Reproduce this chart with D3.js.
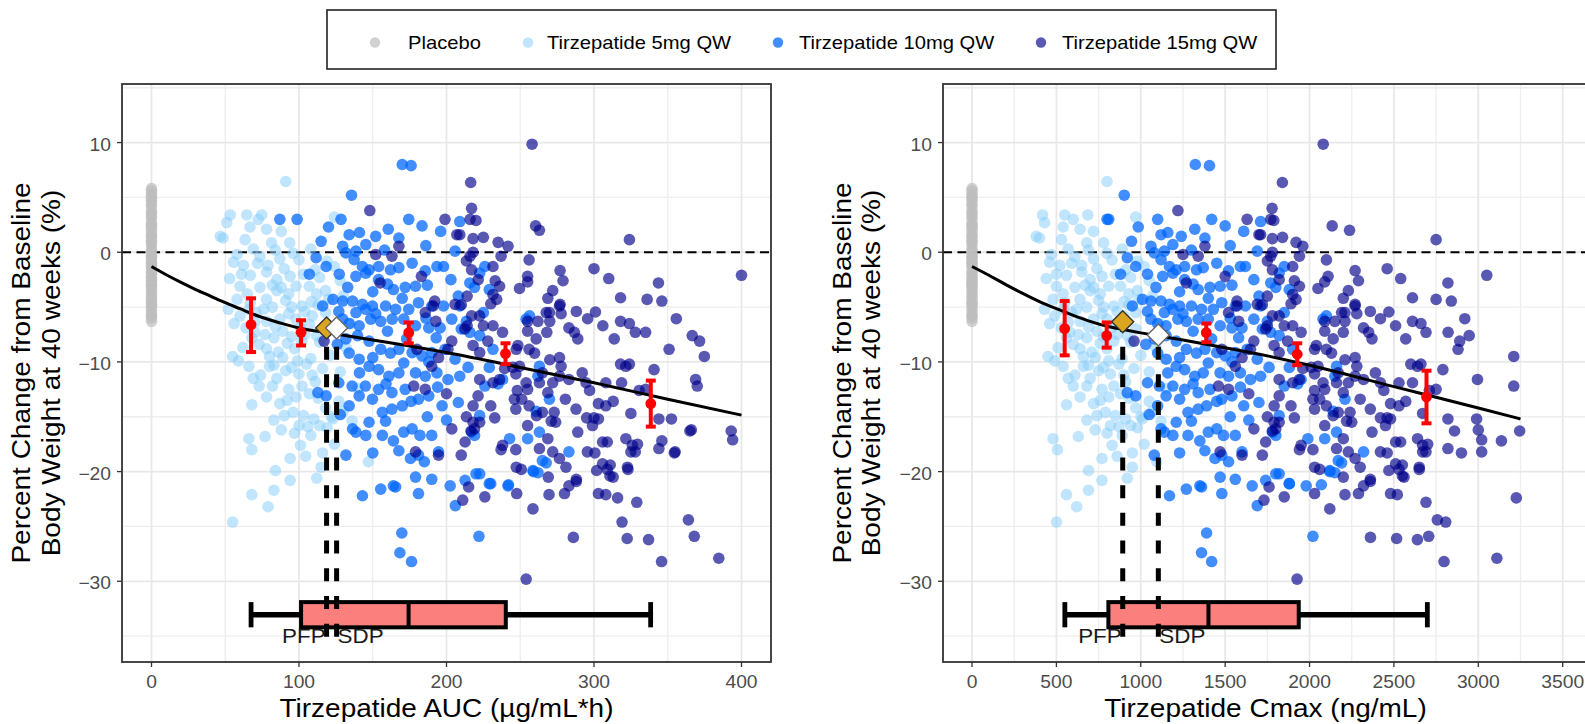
<!DOCTYPE html>
<html><head><meta charset="utf-8">
<script src="https://cdn.jsdelivr.net/npm/d3@7"></script>
<style>body{margin:0;background:#fff}svg{display:block}text{font-family:"Liberation Sans",Arial,sans-serif}</style>
</head><body><svg id="chart" width="1585" height="724"></svg>
<script>
// ---------------- DATA ----------------
const groups = ["Placebo","Tirzepatide 5mg QW","Tirzepatide 10mg QW","Tirzepatide 15mg QW"];
const groupFill = ["#BEBEBE","#87CEFA","#0066FF","#00008B"];
const groupOpacity = [0.7,0.52,0.74,0.65];

const placeboChange = [5.8,5.6,5.3,5.1,4.9,4.7,4.4,4.2,3.8,3.6,3.3,3.1,2.7,2.5,2.3,2.1,1.8,1.5,1.4,1.1,0.9,0.7,0.3,0.1,-0.3,-0.4,-0.6,-0.9,-1.0,-1.2,-1.4,-1.8,-1.9,-2.2,-2.4,-2.6,-2.8,-3.0,-3.1,-3.4,-3.6,-3.9,-4.1,-4.4,-4.6,-4.8,-5.0,-5.3,-5.6,-5.8,-6.0,-6.3];

// [AUC (ug/mL*h), Cmax (ng/mL), % change]
const tzp5 = [
[91,800,6.45],[53.4,418,3.4],[64.6,549,3.4],[74.7,686,3.4],[72.4,600,3.0],[66.8,540,2.3],[78,640,2.1],[46.6,380,1.45],[48.5,400,1.3],[51,430,2.7],[63.5,530,1.15],[81.4,680,0.85],[88,720,1.9],[93.7,780,0.85],[124,970,3.2],
[55.6,460,-0.9],[62.3,520,-1.2],[73.5,610,-0.4],[79,650,-1.2],[87,720,-0.6],[96,800,-0.1],[100,830,-0.7],[53,440,-2.4],[67,560,-2.1],[78,650,-1.8],[85,700,-2.5],[94,770,-2.2],
[60,500,-3.1],[73.5,610,-3.2],[85,700,-3.5],[98,810,-3.1],[107,880,-3.1],[112,930,-3.8],[118,980,-3.5],[58,480,-4.3],[67,550,-4.6],[78,640,-4.3],[91,750,-4.4],[102,840,-4.9],[108.5,900,-4.5],[120,990,-4.3],
[60,490,-5.8],[71,590,-5.5],[87,720,-6.1],[98,800,-6.1],[109,900,-5.8],[118,970,-5.5],[64,530,-6.9],[78,640,-6.3],[89,740,-7.2],[101,830,-6.9],[112,920,-7.6],
[62,510,-8.7],[73,600,-8.4],[86,710,-9.1],[97,800,-8.8],[108,890,-9.7],[121,1000,-9.4],[66,540,-10.4],[80,660,-10.4],[91,750,-10.8],[100,820,-11.1],[116,960,-10.6],
[73,600,-12.2],[82,680,-12.2],[93,770,-12.5],[102,840,-12.2],[111,910,-11.8],[68,560,-13.9],[87,720,-13.8],[98,810,-13.2],[107,880,-12.9],[118,970,-14.2],[127,1050,-13.6],
[90,740,-14.9],[96,790,-14.6],[103,850,-14.9],[110,910,-15.2],[123,1010,-15.2],[136,1120,-15.4],[66,480,-17.0],[68,506,-18.0],[88,730,-16.2],[97,800,-16.5],[106,870,-15.9],[108,890,-16.7],[119,980,-16.0],
[94,770,-18.8],[104.5,860,-18.6],[115,950,-19.6],[147,1095,-19.1],[84,690,-19.9],[94,770,-20.8],[68,560,-22.1],[79,620,-23.2],[55,501,-24.6],[83,690,-21.7],[122,1000,-15.0],[116,950,-18.3],
[124,1020,-1.3],[130,1070,-4.0],[135,1110,-6.5],[114,940,-8.2],[104,860,-7.5],[95,780,-5.0],[76,620,-5.2],[83,680,-7.8],[93,760,-3.8],[80,660,-9.5],[70,580,-7.3],[55,450,-9.5],[74,610,-11.2],[99,810,-9.9],[85,700,-11.5],[105,870,-10.2],
[58,470,-0.2],[69,570,0.3],[84,690,0.2],[90,740,-1.5],[61,500,-2.0],[72,590,-1.0],[82,670,-3.0],[103,850,-2.0],[65,540,-3.8],[88,720,-3.2],[114,940,-2.3],[52,430,-5.2],[66,540,-5.2],
[82,680,-5.0],[93,770,-5.6],[104,860,-5.4],[113,930,-4.8],[56,460,-6.5],[70,570,-6.4],[84,690,-6.8],[95,780,-7.7],[107,880,-6.6],[118,970,-7.0],[68,560,-7.8],[77,630,-7.5],[92,760,-8.3],
[102,840,-8.1],[59,490,-9.9],[78,640,-8.8],[89,730,-9.6],[69,570,-11.5],[83,690,-10.3],[95,780,-10.5],[109,900,-11.2],[78,640,-13.2],[92,760,-13.5],[113,930,-13.3],[83,680,-15.3],
[100,820,-15.8],[114,940,-15.8],[130,1070,-14.5],[77,630,-16.8],[101,830,-17.6],[124,1020,-17.5],[112,920,-20.6],[128,1050,-10.9],[132,1090,-8.7],[140,1150,-12.4],[128,1050,-2.6],
[119,980,-0.8],[108,890,0.3],[111,910,-1.6]
];

const tzp10 = [
[170,1323,8.0],[176,1407,7.9],[135.6,902,5.2],[87,810,3.0],[98.7,800,3.0],[128.5,1100,3.0],[134,1120,1.6],[174.4,1420,3.0],[183.4,1500,2.4],[160.5,1320,2.1],[167.7,1380,1.3],[152,1240,1.45],
[129.6,1060,0.55],[138.6,1140,0.1],[145.3,1190,0.7],[111.6,920,-0.5],[107,880,-2.0],[118.4,970,-1.3],[127.3,1040,-2.0],[131.8,1080,-0.06],[137.4,1120,-0.67],[143,1170,-1.3],[147.5,1210,-1.6],
[154,1260,-1.3],[162,1330,-1.6],[167.7,1370,-1.4],[176.7,1450,-1.0],[185.6,1520,-1.7],[193.5,1590,-1.3],[198,1620,-1.3],[205.8,1690,0.1],[138.6,1130,-2.2],[145.3,1190,-1.9],[154,1260,-2.5],
[164,1340,-3.4],[172,1410,-3.2],[179,1470,-3.1],[123,1010,-4.3],[129.6,1060,-4.45],[136.3,1120,-4.45],[143,1170,-4.75],[149.8,1230,-4.9],[158.7,1300,-4.9],[165.5,1360,-5.2],[174.4,1430,-5.2],
[181,1480,-4.6],[190,1560,-4.9],[198,1620,-4.9],[208,1700,-4.0],[127,1040,-5.4],[138.6,1140,-5.5],[145.3,1190,-5.2],[129.6,1060,-6.1],[140.8,1150,-6.7],[148.6,1220,-6.1],[155.4,1270,-6.3],
[163.2,1340,-6.1],[171,1400,-6.1],[179,1470,-6.7],[188,1540,-6.9],[195.7,1600,-6.9],[203.6,1670,-6.1],[210,1720,-7.0],[131.8,1080,-7.9],[139.7,1150,-7.6],[147.5,1210,-8.1],[155.4,1270,-8.85],
[162,1330,-9.2],[167.7,1380,-8.85],[176.7,1450,-9.15],[183.4,1500,-9.45],[190,1560,-9.15],[199,1630,-8.85],[205.8,1690,-9.75],[134,1100,-9.2],[140.8,1150,-9.75],[147.5,1210,-10.4],
[154,1260,-10.7],[160.9,1320,-11.3],[167.7,1370,-11.0],[179,1470,-11.0],[185.6,1520,-11.3],[193.5,1590,-11.0],[201,1650,-11.6],[209,1710,-11.3],[127,1040,-11.9],[136,1110,-12.2],[145,1190,-12.2],
[154,1260,-12.5],[163,1340,-12.8],[172,1410,-12.5],[181,1480,-13.4],[188,1540,-13.1],[197,1610,-14.0],[208,1700,-13.7],[112.8,920,-12.8],[118.4,970,-13.1],[134,1100,-14.0],[140.8,1150,-13.1],
[149.8,1230,-13.4],[156.5,1280,-14.6],[163,1340,-14.3],[170,1390,-14.0],[136.3,1120,-16.1],[147.5,1210,-15.5],[158.7,1300,-15.4],[138.6,1140,-16.4],[145.3,1190,-16.7],[156.5,1280,-16.7],
[171,1400,-16.4],[176.7,1450,-16.1],[182,1490,-16.7],[190,1560,-16.7],[194.6,1600,-18.2],[167.7,1380,-18.1],[175.6,1440,-18.8],[181,1480,-18.5],[131.8,1080,-18.5],[165.5,1360,-21.4],
[179,1470,-20.5],[190,1560,-20.7],[202.5,1660,-21.3],[212.6,1740,-20.8],[143,1170,-22.2],[155.4,1270,-21.6],[169.7,1390,-25.6],[168.4,1360,-27.4],[176.3,1420,-28.2],[222,2020,-25.9],
[206,1690,-23.1],[181,1480,-22.0],[164,1350,-21.3],[230,1880,-21.1],[242,2070,-21.2],[220,1800,-20.2],[259,2120,-20.0],[265,2170,-19.0],[283,2320,-18.2],
[209,1710,2.8],[226,1850,-1.3],[222.5,1820,-1.9],[215.8,1770,-2.8],[219,1800,-3.2],[229,1880,-3.4],[209,1710,-4.9],[225,1850,-5.5],[213.5,1750,-6.3],[254,2080,-6.1],[256.3,2100,-5.8],
[215.8,1770,-7.3],[222.5,1820,-7.6],[231.5,1900,-8.85],[214.6,1760,-10.5],[229,1880,-10.5],[235,1930,-12.0],[226,1850,-12.2],[238,1950,-11.6],[262,2150,-11.3],[263,2160,-10.4],
[260.8,2140,-14.5],[269.8,2210,-13.4],[222.5,1820,-14.9],[217,1780,-16.4],[219,1800,-16.7],[242.8,1990,-17.0],[255,2090,-17.0],[263,2160,-16.4],[267.6,2190,-19.2],[258.6,2120,-19.9],
[262,2150,-20.1],[222.5,1820,-20.2],[229,1880,-21.1],[241.7,1980,-21.3],
[115,945,1.0],[120,985,2.3],[141,1160,1.8],[158,1300,0.2],[186,1530,0.6],[196,1610,1.9],[150,1230,-3.6],[160,1310,-2.9],[187,1540,-3.0],[203,1670,-2.5],[133,1090,-3.2],[116,950,-4.9],
[152,1250,-5.6],[170,1400,-4.2],[186,1530,-6.0],[134,1100,-6.5],[160,1310,-7.2],[173,1420,-7.9],[193,1580,-7.8],[126,1030,-8.4],[150,1230,-9.6],[171,1400,-10.1],[188,1540,-10.0],
[141,1160,-11.0],[159,1310,-12.0],[194,1590,-12.3],[128,1050,-14.8],[176,1450,-13.6],[187,1530,-15.0],[200,1640,-15.3],[164,1350,-17.2],[150,1230,-18.3],[185,1520,-19.1]
];

const tzp15 = [
[258,2081,9.85],[216.4,1839,6.36],[217,1778,4.0],[220,1788,2.9],[260.4,2134,2.4],[263,2237,2.0],[324,2750,1.15],[218,1780,1.24],[225,1840,1.36],[235,1920,0.9],[241.7,1960,0.55],[209,1710,1.6],
[218,1780,0.0],[213.5,1750,-0.8],[237,1940,-0.36],[256,2100,-0.7],[277,2270,-1.67],[279,2290,-2.6],[300,2460,-1.5],[310,2540,-2.4],[400,3050,-2.1],[249.5,2050,-3.3],[255,2090,-2.7],[255,2110,-2.2],
[343.7,2820,-2.8],[318,2610,-4.15],[336,2750,-4.3],[346,2840,-4.45],[231.5,1900,-3.85],[230,1890,-4.7],[234,1920,-4.3],[268.7,2200,-4.2],[272,2230,-3.5],[277,2270,-4.75],[288,2360,-5.4],
[295.7,2420,-6.06],[301,2470,-5.45],[306,2510,-6.7],[318,2610,-6.3],[324,2660,-6.5],[328,2690,-7.3],[335,2821,-7.3],[355.8,2920,-6.06],[366.6,2946,-7.6],[371.6,2890,-8.1],[374.8,3210,-9.5],
[350.9,2880,-8.85],[340.7,2790,-10.7],[368.9,2995,-11.6],[370,3210,-12.2],[344,2820,-15.2],[352.5,2990,-15.2],[366,3000,-16.2],[355,3020,-18.2],[344,2820,-17.9],[346,3137,-17.2],[325,2670,-14.7],
[321.6,2640,-17.0],[326,2670,-17.6],[329.5,2700,-17.5],[313,2570,-13.6],[308,2530,-14.0],[303,2480,-13.8],[318.7,2610,-11.9],[321.6,2640,-10.4],[324,2660,-10.2],[318,2600,-10.2],
[330.6,2710,-12.6],[335,2750,-12.5],[297,2440,-12.6],[294.6,2420,-11.9],[308,2530,-11.9],[313.7,2570,-7.9],[292,2390,-11.0],[283,2320,-11.6],[276.6,2270,-11.3],[280.6,2300,-13.4],
[287.8,2360,-14.3],[295,2420,-15.1],[299,2450,-15.8],[289,2370,-16.4],[295.5,2420,-18.2],[305.8,2510,-17.3],[309,2540,-17.3],[301.8,2470,-19.9],[305.8,2510,-19.3],[310.8,2550,-20.4],
[322.7,2650,-19.6],[325,2670,-18.2],[328,2690,-18.2],[289,2370,-7.9],[286.7,2350,-7.3],[283,2320,-6.9],[276.6,2270,-4.9],[277.7,2280,-5.6],[269.8,2210,-5.5],[270,2210,-6.3],[268,2200,-7.3],
[255,2090,-7.2],[260.8,2140,-7.9],[259.7,2130,-9.2],[276.6,2270,-9.6],[277.7,2280,-10.4],[270,2210,-9.8],[265,2170,-11.0],[263,2160,-11.9],[268.7,2200,-12.8],[272,2230,-11.9],[254,2080,-11.9],
[255,2090,-12.5],[248,2030,-12.6],[251,2060,-13.4],[247,2030,-14.3],[256,2100,-14.0],[261,2140,-14.9],[255,2090,-15.8],[265,2170,-14.6],[273,2240,-14.6],[271,2220,-15.4],[274,2250,-15.5],
[268.7,2200,-17.0],[263,2160,-17.9],[272,2230,-18.2],[276.6,2270,-18.8],[281,2300,-19.6],[288,2360,-20.7],[238,1950,-17.6],[247.3,2030,-19.6],[250.7,2060,-19.8],[230,1890,-14.0],
[222.5,1820,-15.5],[232.7,1910,-15.1],[213.5,1750,-15.0],[218,1790,-15.5],[219,1800,-16.1],[221.4,1820,-13.1],[222.5,1820,-11.6],[231.5,1900,-11.9],[236,1940,-11.6],[247,2030,-11.1],
[246,2020,-13.4],[239.4,1960,-10.6],[245,2010,-10.5],[256,2100,-8.85],[247.3,2030,-8.85],[249.5,2050,-10.4],[222.5,1820,-9.15],[218,1790,-8.5],[238,1950,-7.3],[231.5,1900,-6.7],[228,1870,-8.1],
[225,1850,-6.7],[222.5,1820,-5.8],[236,1940,-3.1],[233,1910,-2.6],[231.5,1900,-1.3],[210,1720,-4.8],[212.4,1740,-7.0],[248.4,2040,-8.5],[255,2090,-6.3],[262,2150,-6.3],[267.6,2190,-5.5],
[148,1220,3.8],[199,1630,3.0],[207,1700,1.6],[216,1770,3.0],[167.7,1380,0.55],[163,1340,-0.36],[152,1250,-0.2],[155,1270,-2.8],[183,1500,-2.2],[192,1570,-4.45],[191,1570,-4.9],[185.6,1520,-5.5],
[205.8,1690,-4.75],[180,1480,-8.85],[190,1560,-10.4],[194.6,1600,-9.6],[201,1650,-8.85],[203.6,1670,-8.1],[177.8,1460,-12.2],[185.6,1520,-12.5],[200,1640,-12.9],[194.6,1600,-18.5],[179,1470,-18.2],
[203.6,1670,-16.1],[212.6,1740,-17.3],[218,1790,-14.0],[216.6,1780,-16.3],[210,1720,-18.5],[117,960,-8.1],[214,1750,-6.7],[217,1780,-5.8],[192.8,1580,-6.3],[214,1750,-4.0],[217,1780,-1.6],
[221.5,1820,-2.5],[216,1770,-0.36],
[254,1926,-29.8],[286,2361,-26.0],[319,2807,-24.6],[322.5,2516,-26.1],[337,2639,-26.2],[345.8,2797,-28.2],[364,2757,-24.4],[368,2706,-25.9],[384.6,3110,-27.9],[393,3245,-16.3],[394,3020,-17.1],
[365,2859,-16.3],[354.5,2900,-18.3],[329,2690,-22.8],[323,2650,-19.8],[316,3225,-22.4],[313,2560,-20.5],[308,2520,-22.1],[303,2480,-22.0],[309,2530,-19.8],[311,2550,-19.4],[300.6,2460,-18.3],
[300,2460,-15.1],[303,2480,-15.2],[288,2360,-20.9],[283,2320,-21.3],[280,2290,-22.0],[269.5,2210,-22.1],[269,2200,-20.5],[258.6,2120,-23.4],[247.6,2030,-22.0],[237,1940,-18.0],[247,2020,-18.0],
[226,1850,-22.3],[215,1760,-21.4],[211,1730,-22.6]
];

// exposure-response model fit
const aucCurveX = [0,10,20,30,40,50,60,70,80,90,100,125,150,175,200,250,300,350,400];
const aucCurveY = [-1.3,-2.05,-2.75,-3.4,-4.0,-4.6,-5.15,-5.7,-6.15,-6.55,-6.9,-7.45,-8.0,-8.55,-9.15,-10.5,-11.9,-13.4,-14.85];
const cmaxCurveX = [0,100,200,300,400,500,600,700,800,900,1000,1250,1500,1750,2000,2500,3000,3250];
const cmaxCurveY = [-1.3,-2.1,-2.95,-3.75,-4.5,-5.15,-5.75,-6.3,-6.75,-7.05,-7.35,-8.0,-8.7,-9.45,-10.3,-12.25,-14.2,-15.2];

// observed mean (95% CI) by exposure quantile
const aucQuantX = [67.5,101.4,174.4,240,338.5];
const aucQuantMean = [-6.6,-7.3,-7.33,-9.24,-13.8];
const aucQuantLo = [-9.1,-8.5,-8.3,-10.2,-15.9];
const aucQuantHi = [-4.2,-6.2,-6.4,-8.3,-11.7];
const cmaxQuantX = [549,798,1388,1927,2693];
const cmaxQuantMean = [-6.97,-7.6,-7.33,-9.3,-13.2];
const cmaxQuantLo = [-9.4,-8.7,-8.2,-10.3,-15.6];
const cmaxQuantHi = [-4.45,-6.4,-6.5,-8.3,-10.8];

// exposure distribution box (p5, p25, median, p75, p95)
const aucBox = [67.5,101.4,174.3,240.2,338.4];
const cmaxBox = [550,808,1401,1936,2698];
const boxRange = [-31.9,-34.2];

// PFP / SDP mean exposures
const thrLabels = ["PFP","SDP"];
const thrFill = ["#DAA520","#FFFFFF"];
const aucThrX = [118.7,125.5];
const aucThrY = [-6.9,-6.9];
const cmaxThrX = [893,1104];
const cmaxThrY = [-6.33,-7.55];
const thrBottom = -35.05;

// axes
const yMajor = [-30,-20,-10,0,10];
const yMinor = [-35,-25,-15,-5,5,15];
const aucMajor = [0,100,200,300,400];
const aucMinor = [50,150,250,350];
const cmaxMajor = [0,500,1000,1500,2000,2500,3000,3500];
const cmaxMinor = [250,750,1250,1750,2250,2750,3250];
const yTitleLines = ["Percent Change from Baseline","Body Weight at 40 weeks (%)"];
const xTitles = ["Tirzepatide AUC (µg/mL*h)","Tirzepatide Cmax (ng/mL)"];

// ---------------- DRAW ----------------
const svg = d3.select("#chart");
svg.append("rect").attr("width",1585).attr("height",724).attr("fill","#fff");
const yTop = 84, yBot = 662;
const y = d3.scaleLinear().domain([-37.36,15.34]).range([yBot,yTop]);
const minus = v => (v<0 ? "\u2212"+Math.abs(v) : String(v));

function label(g,x,yy,s,o){
  const tr = `translate(${x},${yy})` + (o.rotate?` rotate(${o.rotate})`:"") + ` scale(${o.sx||1},1)`;
  return g.append("text").attr("transform",tr).attr("text-anchor",o.anchor||"start")
    .attr("font-size",o.size).attr("fill",o.fill||"#000").text(s);
}

const panels = [
  {x:d3.scaleLinear().domain([-20,420]).range([122,771]), left:122, right:771, k:0,
   major:aucMajor, minor:aucMinor, title:xTitles[0],
   cx:aucCurveX, cy:aucCurveY, qx:aucQuantX, qm:aucQuantMean, ql:aucQuantLo, qh:aucQuantHi,
   box:aucBox, tx:aucThrX, ty:aucThrY, yTickEnd:111, yTitleX:[30,60]},
  {x:d3.scaleLinear().domain([-172,3650]).range([943,1588]), left:943, right:1588, k:1,
   major:cmaxMajor, minor:cmaxMinor, title:xTitles[1],
   cx:cmaxCurveX, cy:cmaxCurveY, qx:cmaxQuantX, qm:cmaxQuantMean, ql:cmaxQuantLo, qh:cmaxQuantHi,
   box:cmaxBox, tx:cmaxThrX, ty:cmaxThrY, yTickEnd:932, yTitleX:[851,880]}
];

panels.forEach((p,pi)=>{
  const x = p.x;
  const clipId = "clip"+pi;
  svg.append("clipPath").attr("id",clipId).append("rect")
    .attr("x",p.left).attr("y",yTop).attr("width",p.right-p.left).attr("height",yBot-yTop);
  const g = svg.append("g").attr("clip-path",`url(#${clipId})`);
  g.append("rect").attr("x",p.left).attr("y",yTop).attr("width",p.right-p.left).attr("height",yBot-yTop).attr("fill","#fff");
  // grid
  g.selectAll(".gminx").data(p.minor).join("line").attr("x1",d=>x(d)).attr("x2",d=>x(d)).attr("y1",yTop).attr("y2",yBot).attr("stroke","#EEEEEE").attr("stroke-width",1.3);
  g.selectAll(".gminy").data(yMinor).join("line").attr("x1",p.left).attr("x2",p.right).attr("y1",d=>y(d)).attr("y2",d=>y(d)).attr("stroke","#EEEEEE").attr("stroke-width",1.3);
  g.selectAll(".gmajx").data(p.major).join("line").attr("x1",d=>x(d)).attr("x2",d=>x(d)).attr("y1",yTop).attr("y2",yBot).attr("stroke","#E8E8E8").attr("stroke-width",1.8);
  g.selectAll(".gmajy").data(yMajor).join("line").attr("x1",p.left).attr("x2",p.right).attr("y1",d=>y(d)).attr("y2",d=>y(d)).attr("stroke","#E8E8E8").attr("stroke-width",1.8);
  // zero reference line
  g.append("line").attr("x1",p.left).attr("x2",p.right).attr("y1",y(0)).attr("y2",y(0))
    .attr("stroke","#000").attr("stroke-width",2).attr("stroke-dasharray","9,5.5");
  // points
  const r = 5.8;
  g.selectAll(".pl").data(placeboChange).join("circle").attr("cx",x(0)).attr("cy",d=>y(d)).attr("r",r)
    .attr("fill",groupFill[0]).attr("fill-opacity",groupOpacity[0]);
  [tzp5,tzp10,tzp15].forEach((arr,gi)=>{
    g.selectAll(".pt"+gi).data(arr).join("circle").attr("cx",d=>x(d[p.k])).attr("cy",d=>y(d[2])).attr("r",r)
      .attr("fill",groupFill[gi+1]).attr("fill-opacity",groupOpacity[gi+1]);
  });
  // model curve
  const line = d3.line().x(d=>x(d[0])).y(d=>y(d[1])).curve(d3.curveMonotoneX);
  g.append("path").datum(p.cx.map((v,i)=>[v,p.cy[i]])).attr("d",line).attr("fill","none").attr("stroke","#000").attr("stroke-width",3);
  // box of exposure distribution
  const b = p.box, yb0 = y(boxRange[0]), yb1 = y(boxRange[1]), ym = (yb0+yb1)/2;
  g.append("line").attr("x1",x(b[0])).attr("x2",x(b[1])).attr("y1",ym).attr("y2",ym).attr("stroke","#000").attr("stroke-width",5.5);
  g.append("line").attr("x1",x(b[3])).attr("x2",x(b[4])).attr("y1",ym).attr("y2",ym).attr("stroke","#000").attr("stroke-width",5.5);
  [b[0],b[4]].forEach(v=>g.append("line").attr("x1",x(v)).attr("x2",x(v)).attr("y1",yb0).attr("y2",yb1).attr("stroke","#000").attr("stroke-width",4.8));
  g.append("rect").attr("x",x(b[1])).attr("y",yb0).attr("width",x(b[3])-x(b[1])).attr("height",yb1-yb0)
    .attr("fill","#FA7F7D").attr("stroke","#000").attr("stroke-width",4);
  g.append("line").attr("x1",x(b[2])).attr("x2",x(b[2])).attr("y1",yb0).attr("y2",yb1).attr("stroke","#000").attr("stroke-width",4);
  // PFP / SDP vertical dashed lines
  p.tx.forEach((v,i)=>{
    g.append("line").attr("x1",x(v)).attr("x2",x(v)).attr("y1",y(thrBottom)).attr("y2",y(p.ty[i]))
      .attr("stroke","#000").attr("stroke-width",5).attr("stroke-dasharray","13,14.7");
  });
  label(g,x(p.tx[0])-1,y(-35)+7,thrLabels[0],{size:20,anchor:"end",sx:1.12,fill:"#1a1a1a"});
  label(g,x(p.tx[1])+1,y(-35)+7,thrLabels[1],{size:20,anchor:"start",sx:1.12,fill:"#1a1a1a"});
  // quantile means with CI
  p.qx.forEach((v,i)=>{
    const xx = x(v);
    g.append("line").attr("x1",xx).attr("x2",xx).attr("y1",y(p.ql[i])).attr("y2",y(p.qh[i])).attr("stroke","#FF0000").attr("stroke-width",4);
    [p.ql[i],p.qh[i]].forEach(c=>g.append("line").attr("x1",xx-5).attr("x2",xx+5).attr("y1",y(c)).attr("y2",y(c)).attr("stroke","#FF0000").attr("stroke-width",4));
    g.append("circle").attr("cx",xx).attr("cy",y(p.qm[i])).attr("r",5.4).attr("fill","#FF0000");
  });
  // diamonds
  p.tx.forEach((v,i)=>{
    const cx = x(v), cy = y(p.ty[i]), s = 11;
    g.append("path").attr("d",`M${cx},${cy-s}L${cx+s},${cy}L${cx},${cy+s}L${cx-s},${cy}Z`)
      .attr("fill",thrFill[i]).attr("stroke",i===0?"#333":"#666").attr("stroke-width",1.4);
  });
  // border
  svg.append("rect").attr("x",p.left).attr("y",yTop).attr("width",p.right-p.left).attr("height",yBot-yTop)
    .attr("fill","none").attr("stroke","#333").attr("stroke-width",1.8);
  // axes ticks + labels
  const ax = svg.append("g");
  p.major.forEach(v=>{
    ax.append("line").attr("x1",x(v)).attr("x2",x(v)).attr("y1",yBot).attr("y2",yBot+5).attr("stroke","#333").attr("stroke-width",1.3);
    label(ax,x(v),688,String(v),{size:17.5,anchor:"middle",sx:1.1,fill:"#4D4D4D"});
  });
  yMajor.forEach(v=>{
    ax.append("line").attr("x1",p.left-5).attr("x2",p.left).attr("y1",y(v)).attr("y2",y(v)).attr("stroke","#333").attr("stroke-width",1.3);
    label(ax,p.yTickEnd,y(v)+8,minus(v),{size:17.5,anchor:"end",sx:1.1,fill:"#4D4D4D"});
  });
  const midX = (p.left+p.right)/2;
  label(ax,midX,717,p.title,{size:25,anchor:"middle",sx:1.12});
  const midY = (yTop+yBot)/2;
  yTitleLines.forEach((t,i)=>label(ax,p.yTitleX[i],midY,t,{size:25,anchor:"middle",sx:1.12,rotate:-90}));
});

// legend
const lg = svg.append("g");
lg.append("rect").attr("x",327).attr("y",10).attr("width",949).attr("height",59).attr("fill","#fff").attr("stroke","#222").attr("stroke-width",1.6);
const legDotX = [375,528,778,1041];
const legTextX = [408,547,799,1062];
groups.forEach((gname,i)=>{
  lg.append("circle").attr("cx",legDotX[i]).attr("cy",42.5).attr("r",5.2).attr("fill",groupFill[i]).attr("fill-opacity",groupOpacity[i]);
  label(lg,legTextX[i],49,gname,{size:18,anchor:"start",sx:1.12});
});
</script></body></html>
